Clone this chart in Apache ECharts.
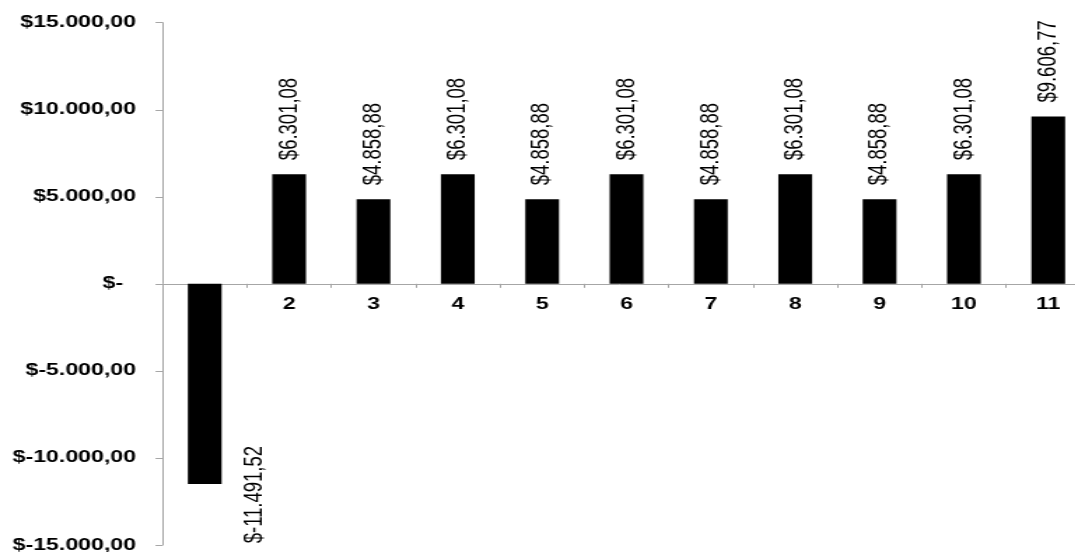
<!DOCTYPE html>
<html>
<head>
<meta charset="utf-8">
<script src="https://cdn.jsdelivr.net/npm/echarts@6/dist/echarts.min.js"></script>
<style>
  html, body { margin: 0; padding: 0; background: #ffffff; overflow: hidden; }
  /* The chart is laid out narrower and stretched sideways to its full width */
  #chart {
    width: 767.86px;
    height: 552px;
    transform: scaleX(1.4);
    transform-origin: 0 0;
  }
</style>
</head>
<body>
<div id="chart"></div>
<script>
// Periods of the cash flow
const categories = ['1', '2', '3', '4', '5', '6', '7', '8', '9', '10', '11'];
// Net cash flow per period
const cashFlow = [-11491.52, 6301.08, 4858.88, 6301.08, 4858.88, 6301.08, 4858.88, 6301.08, 4858.88, 6301.08, 9606.77];
// Value axis range and step
const axisMin = -15000;
const axisMax = 15000;
const axisStep = 5000;

// Currency text: $12.345,67 / $-12.345,67, zero shown as "$-"
function money(v) {
  if (v === 0) return '$-\u00a0\u00a0';
  const neg = v < 0;
  const parts = Math.abs(v).toFixed(2).split('.');
  const intPart = parts[0].replace(/\B(?=(\d{3})+(?!\d))/g, '.');
  return '$' + (neg ? '-' : '') + intPart + ',' + parts[1];
}

const FONT = '"Liberation Sans", Arial, sans-serif';
const AXIS_GREY = '#a6a6a6';

const GRID_TOP = 22.7;
const GRID_BOTTOM = 7;
const CHART_HEIGHT = 552;

const chart = echarts.init(document.getElementById('chart'), null, { renderer: 'canvas' });

// Lift the category axis from the grid bottom up to the zero line
const plotHeight = CHART_HEIGHT - GRID_TOP - GRID_BOTTOM;
const zeroLift = -plotHeight * (0 - axisMin) / (axisMax - axisMin);

const barData = cashFlow.map(function (v) {
  if (v < 0) {
    return {
      value: v,
      label: {
        position: 'bottom',
        distance: 0,
        align: 'right',
        verticalAlign: 'middle',
        offset: [38, 36]
      }
    };
  }
  return v;
});

chart.setOption({
  animation: false,
  backgroundColor: '#ffffff',
  grid: {
    left: 116.1,
    right: -10.9,
    top: GRID_TOP,
    bottom: GRID_BOTTOM,
    containLabel: false,
    outerBoundsMode: 'none'
  },
  xAxis: {
    type: 'category',
    data: categories,
    position: 'bottom',
    offset: zeroLift,
    z: 1,
    axisLine: { onZero: false, lineStyle: { color: AXIS_GREY, width: 1 } },
    axisTick: { show: true, length: 4, lineStyle: { color: AXIS_GREY } },
    axisLabel: {
      show: true,
      interval: 0,
      margin: 12,
      color: '#000000',
      fontFamily: FONT,
      fontWeight: 'bold',
      fontSize: 16.5
    },
    splitLine: { show: false }
  },
  yAxis: {
    type: 'value',
    min: axisMin,
    max: axisMax,
    interval: axisStep,
    axisLine: { show: true, lineStyle: { color: AXIS_GREY, width: 1 } },
    axisTick: { show: true, length: 5, lineStyle: { color: AXIS_GREY } },
    axisLabel: {
      margin: 19,
      color: '#000000',
      fontFamily: FONT,
      fontWeight: 'bold',
      fontSize: 16.5,
      formatter: money
    },
    splitLine: { show: false }
  },
  series: [{
    type: 'bar',
    data: barData,
    barWidth: '40%',
    z: 3,
    itemStyle: { color: '#000000' },
    label: {
      show: true,
      position: 'top',
      distance: 14,
      rotate: 90,
      align: 'left',
      verticalAlign: 'middle',
      color: '#000000',
      fontFamily: FONT,
      fontSize: 18.5,
      formatter: function (p) { return money(p.value); }
    }
  }]
});
</script>
</body>
</html>
